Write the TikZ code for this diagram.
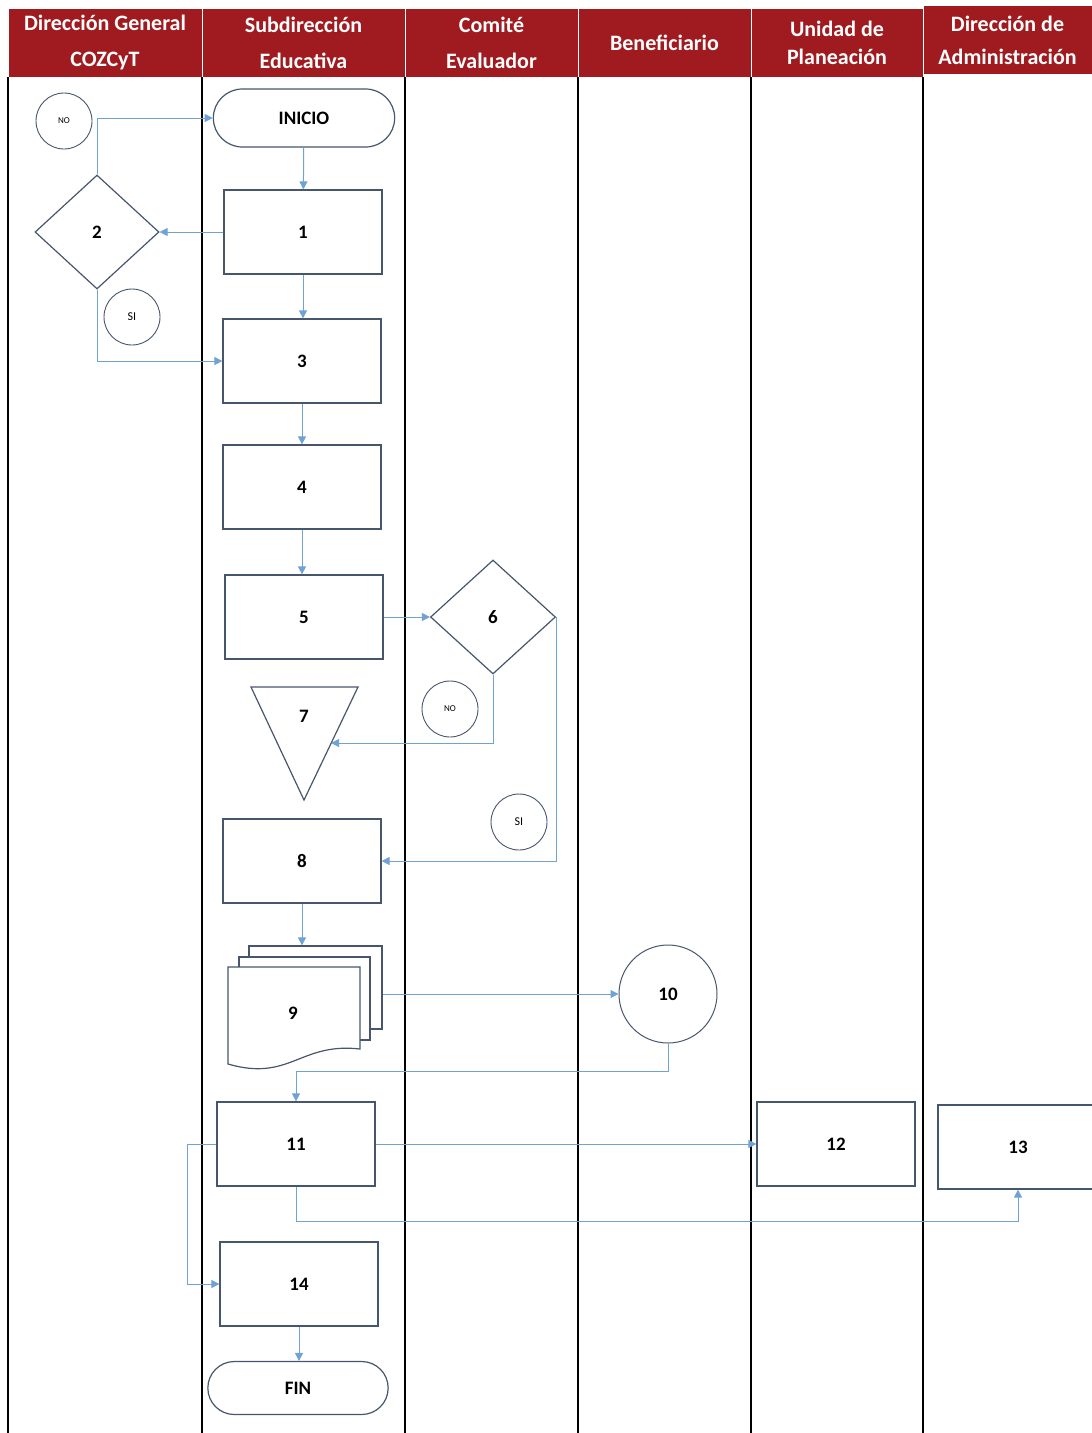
\documentclass[tikz,border=0pt]{standalone}
\usepackage{fontspec}
\setmainfont{Carlito}
\usepackage{tikz}
\usetikzlibrary{arrows.meta,positioning,shapes.geometric,shapes.misc}
\definecolor{hdrred}{RGB}{160,27,32}
\definecolor{edge}{RGB}{70,86,108}
\definecolor{flow}{RGB}{112,162,212}

\begin{document}
\begin{tikzpicture}[
    x=1pt, y=-1pt,
    font=\bfseries\fontsize{19}{22}\selectfont,
    hdr/.style={draw=white, line width=1pt, fill=hdrred, text=white, align=center, minimum height=69pt, inner sep=0pt, font=\bfseries\fontsize{22}{36}\selectfont},
    block/.style={draw=edge, line width=1.2pt, fill=white, minimum width=158pt, minimum height=84pt},
    term/.style={draw=edge, line width=1.2pt, fill=white, rounded rectangle, minimum height=58pt},
    dec/.style={draw=edge, line width=1.2pt, fill=white, diamond, inner sep=0pt},
    page/.style={draw=edge, line width=1.2pt, fill=white, inner sep=0pt},
    tag/.style={draw=edge, line width=0.9pt, circle, minimum size=56pt, inner sep=0pt, font=\fontsize{9}{11}\selectfont},
    lane/.style={line width=2pt},
    line/.style={-{Triangle[length=8pt,width=8pt]}, draw=flow, line width=1pt}
]
    \useasboundingbox (0,0) rectangle (1092,1433);

    % header
    \node[hdr, minimum width=194pt] (h1) at (105,42.5) {Dirección General\\COZCyT};
    \node[hdr, minimum width=203pt] (h2) at (303.5,42.5) {Subdirección\\Educativa};
    \node[hdr, minimum width=173pt] (h3) at (491.5,42.5) {Comité\\Evaluador};
    \node[hdr, minimum width=173pt] (h4) at (664.5,42.5) {Beneficiario};
    \node[hdr, minimum width=172pt, font=\bfseries\fontsize{22}{28}\selectfont] (h5) at (837,42.5) {Unidad de\\Planeación};
    \node[hdr, minimum width=169pt, font=\bfseries\fontsize{22}{33}\selectfont] (h6) at (1007.5,40) {Dirección de\\Administración};

    % lanes
    \draw[lane] (8,77) -- (8,1433);
    \draw[lane] (202,77) -- (202,1433);
    \draw[lane] (405,77) -- (405,1433);
    \draw[lane] (578,77) -- (578,1433);
    \draw[lane] (751,77) -- (751,1433);
    \draw[lane] (923,77) -- (923,1433);

    \node[term, minimum width=188pt] (inicio) at (304,118) {INICIO};
    \node[block] (p1) at (303,232) {1};
    \node[dec, minimum width=124pt, minimum height=114pt] (p2) at (97,232) {2};
    \node[tag] (no1) at (64,121) {NO};
    \node[tag, font=\fontsize{12}{14}\selectfont] (si1) at (132,317) {SI};
    \node[block] (p3) at (302,361) {3};
    \node[block] (p4) at (302,487) {4};
    \node[block] (p5) at (304,617) {5};
    \node[dec, minimum width=125pt, minimum height=114pt] (p6) at (493,617) {6};

    % 7: inverted triangle
    \draw[draw=edge, line width=1.2pt] (251,687) -- (358,687) -- (304,800) -- cycle;
    \node (p7) at (304,716) {7};
    \coordinate (p7in) at (331,743);
    \node[tag] (no2) at (450,709) {NO};
    \node[tag, font=\fontsize{12}{14}\selectfont] (si2) at (519,822) {SI};

    \node[block] (p8) at (302,861) {8};

    % 9: stack of documents
    \node[page, minimum width=133pt, minimum height=83pt] (p9) at (315.5,987.5) {};
    \node[page, minimum width=131pt, minimum height=83pt] (p9b) at (304.5,998.5) {};
    \draw[draw=edge, line width=1.2pt, fill=white] (228,967) -- (360,967) -- (360,1049)
        .. controls (300,1042) and (290,1082) .. (228,1064) -- cycle;
    \node (p9t) at (293,1013) {9};

    \node[circle, draw=edge, line width=1pt, minimum size=98pt] (p10) at (668,994) {10};
    \node[block] (p11) at (296,1144) {11};
    \node[block] (p12) at (836,1144) {12};
    \node[block, minimum width=160pt] (p13) at (1018,1147) {13};
    \node[block] (p14) at (299,1284) {14};
    \node[term, minimum width=187pt, minimum height=53pt] (fin) at (298,1388) {FIN};

    \draw[line] (inicio) -- (p1);
    \draw[line] (p1.west) -- (p2.east);
    \draw[line] (p2.north) |- (inicio.west);
    \draw[line] (p2.south) |- (p3.west);
    \draw[line] (p1.south) -- (p1.south |- p3.north);
    \draw[line] (p3) -- (p4);
    \draw[line] (p4.south) -- (p4.south |- p5.north);
    \draw[line] (p5.east) -- (p6.west);
    \draw[line] (p6.south) |- (p7in);
    \draw[line] (p6.east) |- (p8.east);
    \draw[line] (p8.south) -- (p8.south |- p9.north);
    \draw[line] (p10.west -| p9.east) -- (p10.west);
    \draw[line] (p10.south) -- ++(0,28) -| (p11.north);
    \draw[line] (p11.east) -- (p12.west);
    \draw[line] (p11.south) -- ++(0,35) -| (p13.south);
    \draw[line] (p11.west) -- ++(-29,0) |- (p14.west);
    \draw[line] (p14.south) -- (p14.south |- fin.north);
\end{tikzpicture}
\end{document}
